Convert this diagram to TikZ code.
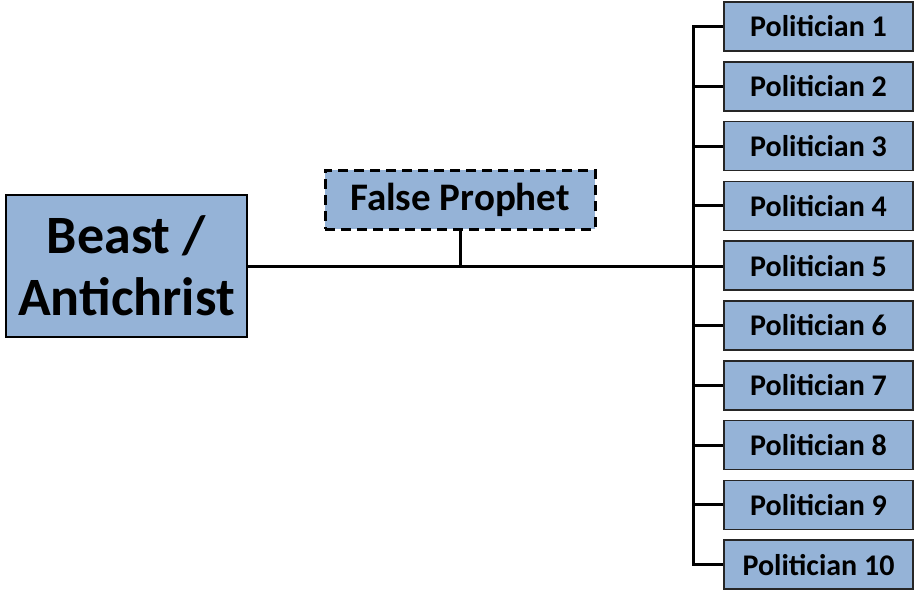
\documentclass[tikz,border=0pt]{standalone}
\usepackage{fontspec}
\setmainfont{Carlito}
\usetikzlibrary{positioning}
\definecolor{boxblue}{HTML}{95B3D7}

\begin{document}
\begin{tikzpicture}[x=1pt,y=1pt,
		polbox/.style={rectangle,draw=black!85,line width=1.5pt,fill=boxblue,
			minimum width=189pt,minimum height=49pt,inner sep=0pt,
			font=\bfseries\fontsize{30}{32}\selectfont},
		beastbox/.style={rectangle,draw=black,line width=2.5pt,fill=boxblue,
			minimum width=241pt,minimum height=142pt,inner sep=0pt,align=center,
			font=\bfseries\fontsize{54}{62}\selectfont},
		prophetbox/.style={rectangle,draw=black,line width=3pt,fill=boxblue,
			dash pattern=on 10pt off 6pt,minimum width=270pt,minimum height=59pt,
			inner sep=0pt,font=\bfseries\fontsize{39}{42}\selectfont},
		conn/.style={draw=black,line width=3pt}
		]
		\useasboundingbox (0,0) rectangle (915,-592);

		\node[beastbox](B) at (126.5,-266){Beast /\\Antichrist};
		\node[prophetbox](F) at (460,-199.5){False Prophet};

		\node[polbox](P1) at (818.5,-26.5){Politician 1};
		\node[polbox, below = 9.3pt of P1](P2){Politician 2};
		\node[polbox, below = 9.3pt of P2](P3){Politician 3};
		\node[polbox, below = 9.3pt of P3](P4){Politician 4};
		\node[polbox, below = 9.3pt of P4](P5){Politician 5};
		\node[polbox, below = 9.3pt of P5](P6){Politician 6};
		\node[polbox, below = 9.3pt of P6](P7){Politician 7};
		\node[polbox, below = 9.3pt of P7](P8){Politician 8};
		\node[polbox, below = 9.3pt of P8](P9){Politician 9};
		\node[polbox, below = 9.3pt of P9](P10){Politician 10};

		\coordinate[left = 30pt of P1.west](T1);
		\coordinate[left = 30pt of P10.west](T10);

		\draw[conn] (P1.west) -- (T1) -- (T10) -- (P10.west);
		\draw[conn] (B.east) -- (B.east -| P5.west);
		\draw[conn] (F.south) -- (F.south |- B.east);
		\draw[conn] (P2.west) -- (P2.west -| T1);
		\draw[conn] (P3.west) -- (P3.west -| T1);
		\draw[conn] (P4.west) -- (P4.west -| T1);
		\draw[conn] (P6.west) -- (P6.west -| T1);
		\draw[conn] (P7.west) -- (P7.west -| T1);
		\draw[conn] (P8.west) -- (P8.west -| T1);
		\draw[conn] (P9.west) -- (P9.west -| T1);
	\end{tikzpicture}
\end{document}
